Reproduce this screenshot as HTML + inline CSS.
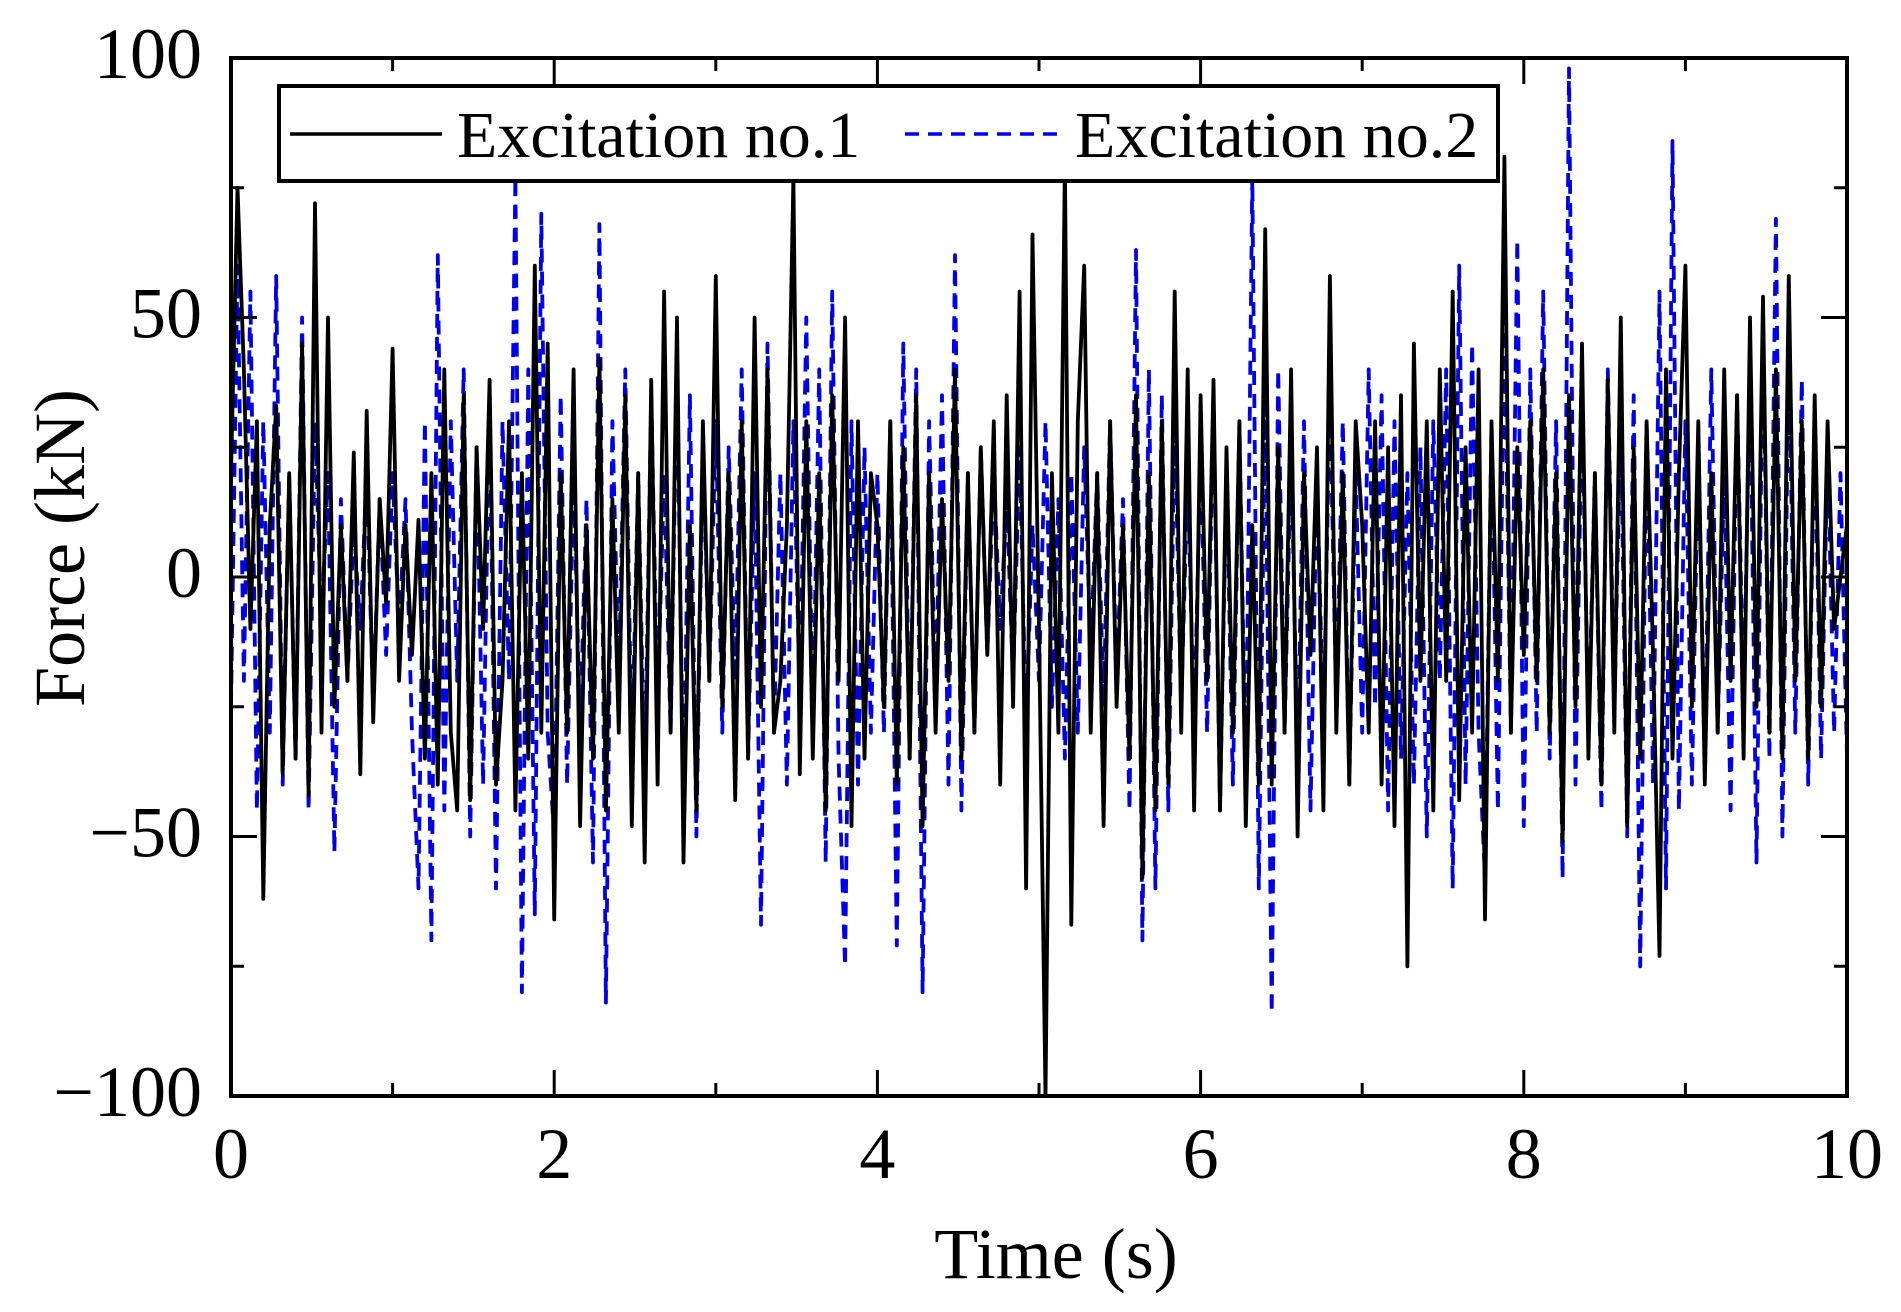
<!DOCTYPE html>
<html><head><meta charset="utf-8"><style>
html,body{margin:0;padding:0;background:#fff}
svg{display:block}
text{font-family:"Liberation Serif",serif;fill:#000}
</style></head><body>
<svg id="chart" width="1901" height="1312" viewBox="0 0 1901 1312" xmlns="http://www.w3.org/2000/svg">
<defs><clipPath id="plotclip"><rect x="231" y="58" width="1616" height="1038"/></clipPath></defs>
<g id="series" clip-path="url(#plotclip)"></g>
<g id="axes"></g>
<g>
<rect x="279" y="86" width="1219" height="95" fill="#fff" stroke="#000" stroke-width="4"/>
<line x1="290" y1="134" x2="442" y2="134" stroke="#000" stroke-width="3.5"/>
<text x="457" y="157" font-size="66">Excitation no.1</text>
<line x1="905" y1="134" x2="1057" y2="134" stroke="#0000ee" stroke-width="3.5" stroke-dasharray="14 9"/>
<text x="1075" y="157" font-size="66">Excitation no.2</text>
</g>
<text x="1056" y="1278" font-size="72" text-anchor="middle">Time (s)</text>
<text transform="translate(84,548) rotate(-90)" font-size="72" text-anchor="middle">Force (kN)</text>
</svg>
<script>
const xTicks = [0,2,4,6,8,10];
const xTickLabels = ["0","2","4","6","8","10"];
const yTicks = [-100,-50,0,50,100];
const yTickLabels = ["\u2212100","\u221250","0","50","100"];
const timeStep = 0.04;
const excitation1 = [
20,75,40,-10,30,-62,10,33,-38,20,-35,45,-42,72,-30,50,-25,10,-20,24,-38,32,-28,15,-5,
44,-20,10,-15,11,-35,20,-40,40,-30,-45,35,-43,25,-10,38,-40,-20,30,-45,20,-35,60,-30,45,
-66,20,-30,40,-48,10,-35,42,-45,15,-30,35,-48,20,-55,38,-40,55,-30,50,-55,10,-45,30,-20,
58,-25,20,-43,30,-35,50,-25,40,-30,-20,10,77,-38,30,-35,20,-45,35,-20,50,-48,30,-35,20,
10,-25,30,-40,25,-35,35,-48,20,-30,15,-20,40,-35,20,-30,25,-15,30,-40,35,-25,55,-60,66,
-10,-100,20,-30,80,-67,30,60,-30,20,-48,30,-25,10,-35,35,-58,20,-45,30,-40,55,-30,40,-45,
35,-20,38,-45,25,-30,30,-48,10,-40,67,-40,25,-30,40,-50,20,-15,25,-45,58,-30,20,-40,30,
10,-30,30,-40,25,-48,35,-75,45,-20,30,-45,40,-20,55,-43,25,-30,40,-66,30,-20,81,-30,25,
-15,30,-20,40,-30,20,-51,35,-25,45,-35,20,-40,38,-30,50,-48,25,-35,30,-15,-73,40,-35,20,
60,-25,30,-40,20,-30,40,-20,35,-35,50,-25,54,-30,40,-35,58,-20,30,-35,35,-25,30,-10,0,10];
const excitation2 = [
-25,60,-20,55,-45,30,-30,58,-40,20,-35,50,-45,30,-10,20,-53,15,-20,10,-10,20,-25,15,-15,
20,-10,15,-30,-60,30,-70,62,-45,30,-20,40,-50,25,-40,35,-60,30,-20,77,-80,40,-65,70,-30,
-50,35,-40,20,-30,15,-55,68,-82,30,-20,40,-35,20,-40,35,-25,20,-30,40,-45,35,-50,25,-20,
30,-30,25,-20,40,-35,20,-67,45,-30,20,-40,30,-25,50,-30,40,-55,55,-35,-75,30,-40,25,-30,
20,-30,30,-71,45,-35,40,-80,30,-25,35,-40,62,-45,20,-30,25,-15,20,-10,15,-20,25,-30,10,
-20,30,-25,15,-35,20,-30,25,-15,20,-25,30,-20,15,-45,63,-70,40,-60,35,-45,30,-25,20,-30,
25,-30,35,-45,20,-40,30,-40,77,-60,35,-84,40,-30,25,-35,30,-45,20,-30,35,-25,30,-40,20,
-30,40,-25,35,-45,30,-35,20,-40,25,-50,30,-20,40,-60,60,-40,45,-30,-58,30,-45,50,-30,65,
-48,40,-30,55,-35,30,-58,98,-40,35,-30,20,-45,40,-25,30,-50,35,-75,30,-40,55,-60,84,-45,
30,-40,25,-35,40,-30,20,-45,35,-25,40,-55,50,-35,69,-50,45,-30,38,-40,30,-35,25,-30,20,-35];

const L=231,R=1847,T=58,B=1096;
const xScale = t => L + (t-0)/(10-0)*(R-L);
const yScale = v => B - (v+100)/200*(B-T);
const NS="http://www.w3.org/2000/svg";
const series=document.getElementById('series');
const axes=document.getElementById('axes');

function addLine(data,color,dash,name){
  const p=document.createElementNS(NS,'polyline');
  p.setAttribute('points',data.map((v,i)=>xScale(i*timeStep).toFixed(1)+','+yScale(v).toFixed(1)).join(' '));
  p.setAttribute('fill','none');p.setAttribute('stroke',color);
  p.setAttribute('stroke-width','3.8');p.setAttribute('stroke-linejoin','round');
  if(dash)p.setAttribute('stroke-dasharray',dash);
  
  
  series.appendChild(p);
}
addLine(excitation2,'#0000ee','14 9','series-excitation-2');
addLine(excitation1,'#000','','series-excitation-1');

function ln(x1,y1,x2,y2,w){
  const l=document.createElementNS(NS,'line');
  l.setAttribute('x1',x1);l.setAttribute('y1',y1);l.setAttribute('x2',x2);l.setAttribute('y2',y2);
  l.setAttribute('stroke','#000');l.setAttribute('stroke-width',w||3);
  
  
  axes.appendChild(l);
}
const frame=document.createElementNS(NS,'rect');
frame.setAttribute('x',L);frame.setAttribute('y',T);frame.setAttribute('width',R-L);frame.setAttribute('height',B-T);
frame.setAttribute('fill','none');frame.setAttribute('stroke','#000');frame.setAttribute('stroke-width','4');


axes.appendChild(frame);

for(let t=0;t<=10;t+=1){
  const x=xScale(t), len=(t%2===0)?26:13;
  ln(x,B,x,B-len);ln(x,T,x,T+len);
}
for(let v=-100;v<=100;v+=25){
  const y=yScale(v), len=(v%50===0)?26:13;
  ln(L,y,L+len,y);ln(R,y,R-len,y);
}
xTicks.forEach((t,i)=>{
  const tx=document.createElementNS(NS,'text');
  tx.setAttribute('x',xScale(t));tx.setAttribute('y',1178);
  tx.setAttribute('font-size','72');tx.setAttribute('text-anchor','middle');
  tx.textContent=xTickLabels[i];
  
  
  axes.appendChild(tx);
});
yTicks.forEach((v,i)=>{
  const tx=document.createElementNS(NS,'text');
  tx.setAttribute('x',202);tx.setAttribute('y',yScale(v)+20);
  tx.setAttribute('font-size','72');tx.setAttribute('text-anchor','end');
  tx.textContent=yTickLabels[i];
  
  
  axes.appendChild(tx);
});
</script>
</body></html>
